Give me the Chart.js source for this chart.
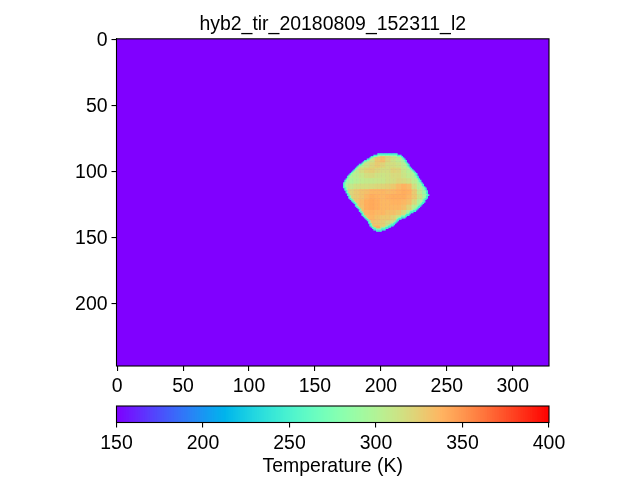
<!DOCTYPE html>
<html>
<head>
<meta charset="utf-8">
<title>hyb2_tir_20180809_152311_l2</title>
<script src="https://cdn.jsdelivr.net/npm/chart.js@4"></script>
<style>
  html, body { margin: 0; padding: 0; background: #fff; width: 640px; height: 480px; overflow: hidden; }
  .box { position: absolute; left: 0; width: 640px; }
  #main-box { top: 0; height: 400px; }
  #cbar-box { top: 395px; height: 85px; }
</style>
</head>
<body>
<div id="main-box" class="box"><canvas id="imageChart"></canvas></div>
<div id="cbar-box" class="box"><canvas id="colorbarChart"></canvas></div>
<script>
const titleText = "hyb2_tir_20180809_152311_l2";
const colorbarLabel = "Temperature (K)";
const xTicks = [0, 50, 100, 150, 200, 250, 300];
const yTicks = [0, 50, 100, 150, 200];
const cbarTicks = [150, 200, 250, 300, 350, 400];
const imageCols = 328;
const imageRows = 248;
const backgroundTemp = 150;

// asteroid outline, one entry per image row from firstRow
const firstRow = 87;
const rowLeft = [198,195,193,192,190,188,187,186,184,183,182,181,180,179,178,177,176,175,175,174,
  173,173,172,172,172,172,173,173,174,174,175,175,176,176,177,178,179,180,181,181,
  182,183,184,184,185,186,186,187,188,189,190,191,191,192,192,193,194,195,197];
const rowRight = [212,215,216,217,218,219,219,220,221,221,222,223,224,225,226,227,227,228,228,229,
  230,230,231,232,232,233,234,234,235,235,235,236,235,235,234,233,233,232,231,230,
  229,228,227,226,224,222,221,219,218,215,213,212,211,210,209,207,205,203,200];

// surface temperature (K), blocks of 4x4 image cells starting at col 172, row 86
const gridCol0 = 172;
const gridRow0 = 86;
const gridStep = 4;
const surfaceTemp = [
  [295,295,295,295,300,305,312,330,322,308,298,295,295,295,295,295],
  [298,298,298,300,305,312,328,332,320,312,305,296,295,295,295,295],
  [298,298,300,305,312,320,326,322,316,316,312,304,296,295,295,295],
  [298,300,306,316,322,324,320,316,316,322,320,310,302,295,295,295],
  [296,300,304,310,316,318,314,312,314,318,318,312,306,298,295,295],
  [292,296,302,306,308,308,310,310,314,316,320,318,314,304,292,292],
  [300,308,314,316,316,318,320,322,324,328,334,338,334,316,298,288],
  [310,320,326,330,332,336,336,336,334,336,338,340,338,326,306,290],
  [320,322,326,330,336,340,338,336,338,340,340,340,336,328,312,296],
  [325,325,328,334,340,342,340,336,336,338,338,336,332,318,298,292],
  [325,325,326,332,340,342,340,336,336,336,336,332,322,302,292,292],
  [325,325,326,332,336,338,336,336,332,332,328,316,298,292,292,292],
  [328,328,328,328,332,336,332,328,328,322,312,300,292,292,292,292],
  [330,330,330,330,328,330,328,324,316,308,298,292,292,292,292,292],
  [332,332,332,332,332,334,338,320,308,298,292,292,292,292,292,292]
];
// colder limb: outermost cell, then the next one inwards
const rimTemp = [245, 276];

const tickFont = { family: "'Liberation Sans', Arial, sans-serif", size: 19.44 };

// matplotlib rainbow colormap
function rainbow(t) {
  const v = Math.max(0, Math.min(1, (t - 150) / 250));
  const r = Math.min(1, Math.abs(2 * v - 0.5));
  const g = Math.sin(Math.PI * v);
  const b = Math.cos(Math.PI * v / 2);
  return `rgb(${Math.round(r * 255)},${Math.round(g * 255)},${Math.round(b * 255)})`;
}

function inside(x, y) {
  const i = y - firstRow;
  if (i < 0 || i >= rowLeft.length) return false;
  return x >= rowLeft[i] && x <= rowRight[i];
}

function rimDepth(x, y) {
  for (let d = 1; d <= rimTemp.length; d++) {
    if (!inside(x - d, y) || !inside(x + d, y) || !inside(x, y - d) || !inside(x, y + d)) return d - 1;
  }
  return -1;
}

const cells = [];
rowLeft.forEach((left, i) => {
  const y = firstRow + i;
  for (let x = left; x <= rowRight[i]; x++) {
    const row = surfaceTemp[Math.min(surfaceTemp.length - 1, Math.floor((y - gridRow0) / gridStep))];
    let t = row[Math.min(row.length - 1, Math.floor((x - gridCol0) / gridStep))];
    const d = rimDepth(x, y);
    if (d >= 0) t = Math.min(t, rimTemp[d]);
    cells.push({ x, y, t });
  }
});

const framePlugin = {
  id: "frame",
  afterDraw(chart) {
    const a = chart.chartArea, ctx = chart.ctx;
    ctx.save();
    ctx.strokeStyle = "#000";
    ctx.lineWidth = 1.1;
    ctx.strokeRect(a.left, a.top, a.right - a.left, a.bottom - a.top);
    ctx.restore();
  }
};

const imageBackground = {
  id: "imageBackground",
  beforeDatasetsDraw(chart) {
    const a = chart.chartArea, ctx = chart.ctx;
    ctx.save();
    ctx.fillStyle = rainbow(backgroundTemp);
    ctx.fillRect(a.left, a.top, a.right - a.left, a.bottom - a.top);
    ctx.restore();
  }
};

function axisOptions(min, max, tickValues, extra) {
  return Object.assign({
    type: "linear",
    min,
    max,
    afterBuildTicks: ax => { ax.ticks = tickValues.map(value => ({ value })); },
    grid: { drawOnChartArea: false, drawTicks: true, tickLength: 5, tickColor: "#000", lineWidth: 1.1 },
    border: { color: "#000", width: 1.1 },
    ticks: { color: "#000", font: tickFont, padding: 4, maxRotation: 0, autoSkip: false }
  }, extra);
}

Chart.defaults.animation = false;
Chart.defaults.responsive = false;

const mainCanvas = document.getElementById("imageChart");
mainCanvas.width = 640;
mainCanvas.height = 400;
const yAxis = axisOptions(-0.5, imageRows - 0.5, yTicks, { reverse: true, afterFit: s => { s.width = 116.5; } });
yAxis.ticks.labelOffset = 1;
new Chart(mainCanvas, {
  type: "scatter",
  data: {
    datasets: [{
      data: cells,
      pointStyle: "rect",
      pointRadius: 1.35,
      pointBorderWidth: 0,
      pointBackgroundColor: c => rainbow(c.raw.t)
    }]
  },
  options: {
    events: [],
    layout: { padding: { top: 0.5, left: 0, right: 91, bottom: 0 } },
    plugins: {
      legend: { display: false },
      tooltip: { enabled: false },
      title: {
        display: true,
        text: titleText,
        fullSize: false,
        color: "#000",
        font: { family: tickFont.family, size: 19.44, weight: "normal", lineHeight: 1.2 },
        padding: { top: 12, bottom: 3 }
      }
    },
    scales: {
      x: axisOptions(-0.5, imageCols - 0.5, xTicks, { afterFit: s => { s.height = 34; } }),
      y: yAxis
    }
  },
  plugins: [imageBackground, framePlugin]
});

const cbarMin = cbarTicks[0];
const cbarMax = cbarTicks[cbarTicks.length - 1];
const colorLevels = [];
for (let t = cbarMin; t < cbarMax; t++) colorLevels.push(t);

const cbarCanvas = document.getElementById("colorbarChart");
cbarCanvas.width = 640;
cbarCanvas.height = 85;
new Chart(cbarCanvas, {
  type: "bar",
  data: {
    labels: [""],
    // first dataset paints last, so each bar only shows its own step
    datasets: colorLevels.map(t => ({
      data: [[cbarMin, t + 1]],
      backgroundColor: rainbow(t + 0.5),
      barPercentage: 1,
      categoryPercentage: 1,
      grouped: false,
      borderWidth: 0
    }))
  },
  options: {
    indexAxis: "y",
    events: [],
    layout: { padding: { top: 11, left: 116.5, right: 91, bottom: 0 } },
    plugins: { legend: { display: false }, tooltip: { enabled: false } },
    scales: {
      x: axisOptions(cbarMin, cbarMax, cbarTicks, {
        afterFit: s => { s.height = 57.5; },
        title: {
          display: true,
          text: colorbarLabel,
          color: "#000",
          font: { family: tickFont.family, size: 19.44, lineHeight: 1.2 },
          padding: { top: 3, bottom: 2 }
        }
      }),
      y: { display: false }
    }
  },
  plugins: [framePlugin]
});
</script>
</body>
</html>
